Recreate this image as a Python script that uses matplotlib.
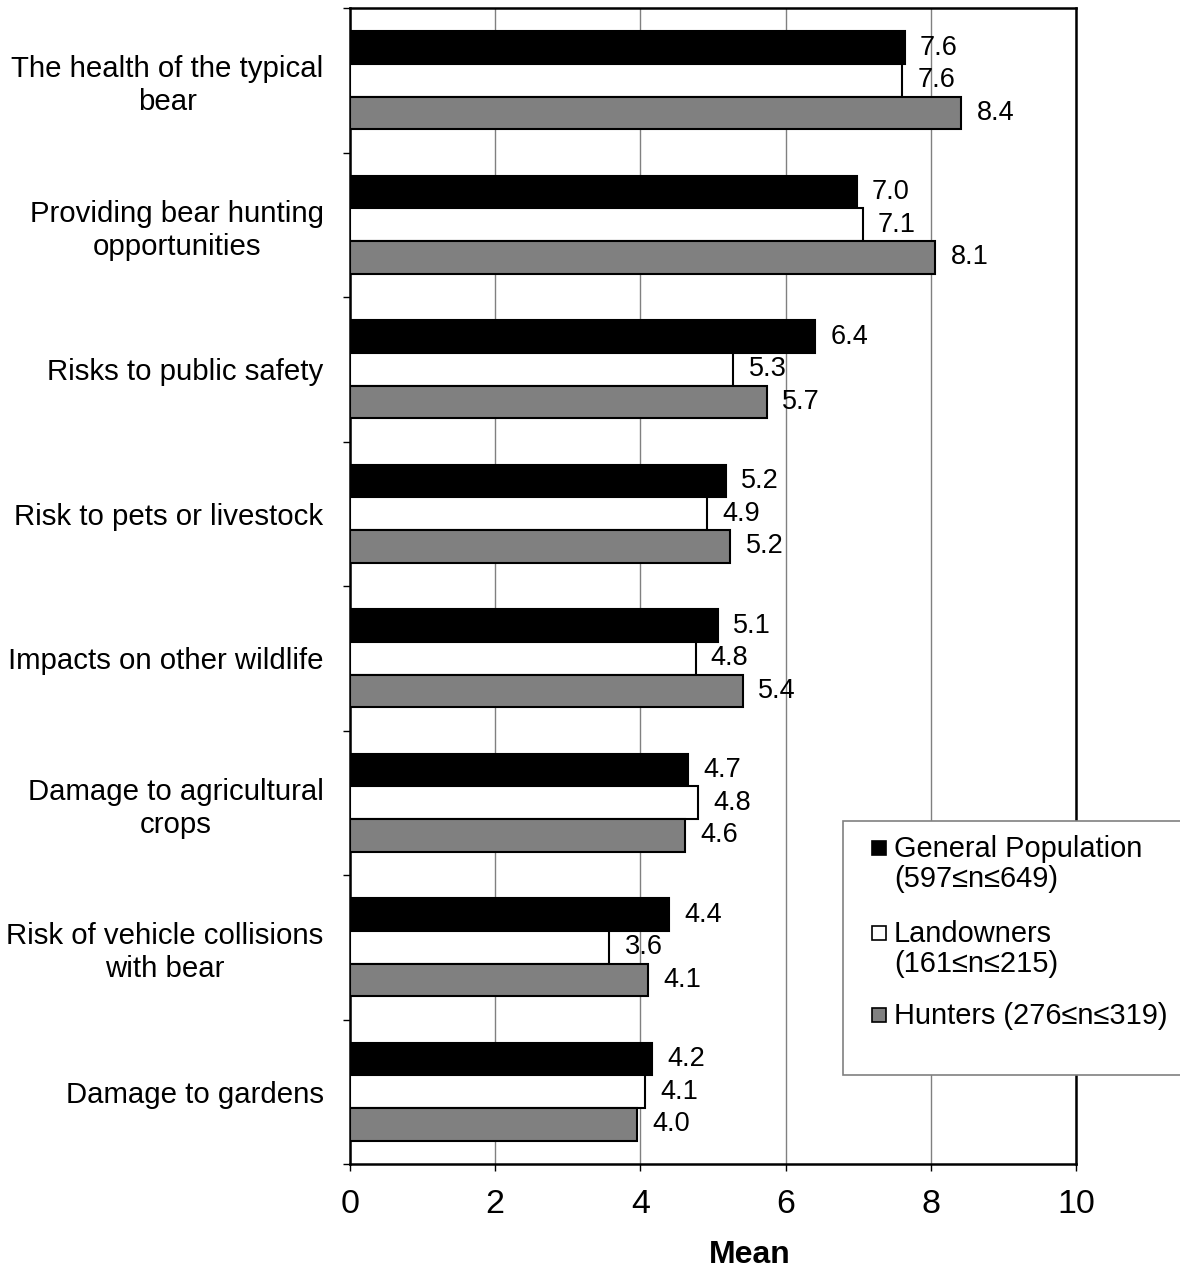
import matplotlib.pyplot as plt
from matplotlib.patches import Rectangle
import numpy as np

plt.rcParams['font.family'] = ['Liberation Sans', 'DejaVu Sans']

categories = ["The health of the typical\nbear",
              "Providing bear hunting\nopportunities",
              "Risks to public safety",
              "Risk to pets or livestock",
              "Impacts on other wildlife",
              "Damage to agricultural\ncrops",
              "Risk of vehicle collisions\nwith bear",
              "Damage to gardens"]

general = [7.64, 6.98, 6.41, 5.18, 5.07, 4.66, 4.39, 4.16]
landowners = [7.61, 7.06, 5.28, 4.92, 4.76, 4.79, 3.57, 4.06]
hunters = [8.42, 8.06, 5.74, 5.24, 5.41, 4.61, 4.11, 3.96]

series_names = ["General Population\n(597\u2264n\u2264649)",
                "Landowners\n(161\u2264n\u2264215)",
                "Hunters (276\u2264n\u2264319)"]
series_colors = ["black", "white", "#808080"]

W, H = 1180, 1270
fig = plt.figure(figsize=(W / 100, H / 100), dpi=100)
ax = fig.add_axes([350 / W, 1 - 1164 / H, 726 / W, 1156 / H])

y = np.arange(len(categories))
h = 0.225
for i, (vals, col) in enumerate(zip([general, landowners, hunters], series_colors)):
    pos = y + (i - 1) * h
    ax.barh(pos, vals, height=h, color=col, edgecolor="black", linewidth=1.5, zorder=3)
    for p, v in zip(pos, vals):
        ax.annotate(f"{v:.1f}", (v, p), xytext=(11, 0), textcoords="offset points",
                    ha="left", va="center", fontsize=19.5, zorder=4)

ax.set_xlim(0, 10)
ax.set_ylim(len(categories) - 0.5, -0.5)
ax.set_xticks(np.arange(0, 11, 2))
ax.tick_params(axis="x", labelsize=24.5, length=5, width=1, pad=13, direction="out")
ax.set_yticks(np.arange(-0.5, len(categories), 1))
ax.set_yticklabels([])
ax.tick_params(axis="y", which="major", length=5, width=1, direction="out")
ax.set_yticks(y, minor=True)
ax.set_yticklabels(categories, minor=True, fontsize=21.2, multialignment="center",
                   linespacing=1.22)
ax.tick_params(axis="y", which="minor", length=0, pad=19)
ax.grid(axis="x", color="#808080", linewidth=1, zorder=0)
for s in ax.spines.values():
    s.set_linewidth(1.8)
    s.set_color("black")

fig.text(750 / W, 1 - 1255 / H, "Mean", fontsize=23, fontweight="bold",
         ha="center", va="center")

# legend box, drawn by hand so markers sit on the first line
fig.patches.append(Rectangle((843 / W, 1 - 1075 / H), 345 / W, 254 / H,
                             transform=fig.transFigure, facecolor="white",
                             edgecolor="#808080", linewidth=1.2, zorder=5))
entry_y = [848, 933, 1015]
for name, col, ey in zip(series_names, series_colors, entry_y):
    fig.patches.append(Rectangle((872 / W, 1 - (ey + 7) / H), 14 / W, 14 / H,
                                 transform=fig.transFigure, facecolor=col,
                                 edgecolor="black", linewidth=1.2, zorder=6))
    fig.text(894 / W, 1 - (ey - 13) / H, name, fontsize=20.9, ha="left", va="top",
             linespacing=1.08, zorder=7)

fig.savefig("out.png", dpi=100)
